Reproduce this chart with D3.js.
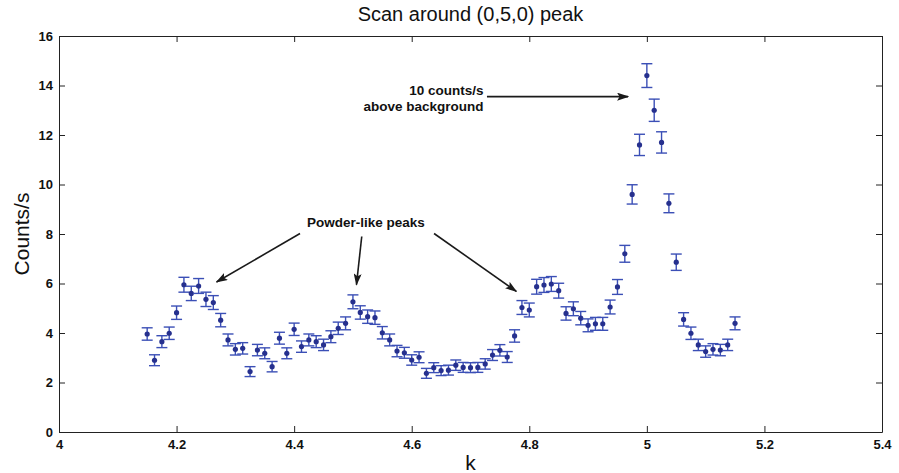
<!DOCTYPE html>
<html>
<head>
<meta charset="utf-8">
<script src="https://cdn.jsdelivr.net/npm/d3@7/dist/d3.min.js"></script>
<style>
  html, body { margin: 0; padding: 0; background: #fff; }
  svg { display: block; }
</style>
</head>
<body>
<svg id="chart" width="899" height="473"></svg>
<script>
// ---- data ----
const kValues = [4.15, 4.1625, 4.175, 4.1875, 4.2, 4.2125, 4.225, 4.2375, 4.25, 4.2625,
  4.275, 4.2875, 4.3, 4.3125, 4.325, 4.3375, 4.35, 4.3625, 4.375, 4.3875,
  4.4, 4.4125, 4.425, 4.4375, 4.45, 4.4625, 4.475, 4.4875, 4.5, 4.5125,
  4.525, 4.5375, 4.55, 4.5625, 4.575, 4.5875, 4.6, 4.6125, 4.625, 4.6375,
  4.65, 4.6625, 4.675, 4.6875, 4.7, 4.7125, 4.725, 4.7375, 4.75, 4.7625,
  4.775, 4.7875, 4.8, 4.8125, 4.825, 4.8375, 4.85, 4.8625, 4.875, 4.8875,
  4.9, 4.9125, 4.925, 4.9375, 4.95, 4.9625, 4.975, 4.9875, 5.0, 5.0125,
  5.025, 5.0375, 5.05, 5.0625, 5.075, 5.0875, 5.1, 5.1125, 5.125, 5.1375, 5.15];
const counts = [3.96, 2.9, 3.65, 3.99, 4.82, 5.95, 5.6, 5.9, 5.36, 5.23,
  4.52, 3.72, 3.34, 3.38, 2.44, 3.31, 3.18, 2.64, 3.79, 3.18,
  4.15, 3.45, 3.72, 3.65, 3.52, 3.85, 4.19, 4.39, 5.26, 4.83,
  4.66, 4.62, 4.01, 3.72, 3.27, 3.2, 2.91, 3.02, 2.37, 2.6,
  2.48, 2.5, 2.7, 2.61, 2.6, 2.61, 2.75, 3.11, 3.3, 3.03,
  3.88, 5.03, 4.93, 5.87, 5.94, 5.98, 5.71, 4.79, 4.98, 4.6,
  4.31, 4.37, 4.37, 5.05, 5.86, 7.2, 9.6, 11.6, 14.4, 13.0,
  11.7, 9.24, 6.86, 4.55, 3.99, 3.52, 3.25, 3.34, 3.31, 3.52, 4.39];
const errors = [0.25, 0.22, 0.24, 0.25, 0.27, 0.3, 0.29, 0.3, 0.29, 0.28,
  0.27, 0.24, 0.23, 0.23, 0.2, 0.23, 0.22, 0.21, 0.24, 0.22,
  0.25, 0.23, 0.24, 0.24, 0.23, 0.24, 0.25, 0.26, 0.28, 0.27,
  0.27, 0.27, 0.25, 0.24, 0.23, 0.22, 0.21, 0.22, 0.2, 0.2,
  0.2, 0.2, 0.21, 0.2, 0.2, 0.2, 0.21, 0.22, 0.23, 0.22,
  0.25, 0.28, 0.28, 0.3, 0.3, 0.3, 0.3, 0.27, 0.28, 0.27,
  0.26, 0.26, 0.26, 0.28, 0.3, 0.34, 0.39, 0.43, 0.48, 0.45,
  0.43, 0.38, 0.33, 0.27, 0.25, 0.23, 0.23, 0.23, 0.23, 0.23, 0.26];
const xTicks = [4, 4.2, 4.4, 4.6, 4.8, 5, 5.2, 5.4];
const yTicks = [0, 2, 4, 6, 8, 10, 12, 14, 16];
const titleText = "Scan around (0,5,0) peak";
const xLabel = "k";
const yLabel = "Counts/s";
// annotations in data coordinates
const peakNote = { lines: ["10 counts/s", "above background"], k: 4.722, v: [13.6, 12.95] };
const peakArrow = { from: [4.728, 13.55], to: [4.968, 13.55] };
const powderNote = { text: "Powder-like peaks", k: 4.522, v: 8.3 };
const powderArrows = [
  { from: [4.41, 8.02], to: [4.268, 6.06] },
  { from: [4.515, 7.9], to: [4.506, 5.95] },
  { from: [4.638, 8.02], to: [4.778, 5.68] }
];

// ---- layout ----
const L = 59, R = 882, T = 36, B = 432;
const svg = d3.select("#chart");
svg.append("rect").attr("width", 899).attr("height", 473).attr("fill", "#fff");

const x = d3.scaleLinear().domain([4, 5.4]).range([L, R]);
const y = d3.scaleLinear().domain([0, 16]).range([B, T]);

const tickFont = "'Liberation Sans', Arial, Helvetica, sans-serif";

function styleAxis(g) {
  g.selectAll("path.domain").attr("stroke", "#222").attr("stroke-width", 1);
  g.selectAll(".tick line").attr("stroke", "#222").attr("stroke-width", 1);
  g.selectAll(".tick text").attr("fill", "#111")
    .attr("font-family", tickFont).attr("font-size", 13).attr("font-weight", "bold");
}

svg.append("g").attr("transform", `translate(0,${B})`)
  .call(d3.axisBottom(x).tickValues(xTicks).tickFormat(d3.format("")).tickSizeInner(-6).tickSizeOuter(0).tickPadding(8))
  .call(styleAxis);
svg.append("g").attr("transform", `translate(0,${T})`)
  .call(d3.axisTop(x).tickValues(xTicks).tickFormat("").tickSizeInner(-6).tickSizeOuter(0))
  .call(styleAxis);
svg.append("g").attr("transform", `translate(${L},0)`)
  .call(d3.axisLeft(y).tickValues(yTicks).tickFormat(d3.format("")).tickSizeInner(-6).tickSizeOuter(0).tickPadding(6))
  .call(styleAxis);
svg.append("g").attr("transform", `translate(${R},0)`)
  .call(d3.axisRight(y).tickValues(yTicks).tickFormat("").tickSizeInner(-6).tickSizeOuter(0))
  .call(styleAxis);

// ---- data marks ----
const data = kValues.map((k, i) => ({ k, v: counts[i], e: errors[i] }));
const barColor = "#3b4fb6";
const dotColor = "#26308e";
const capHalf = 5.5;
const eb = svg.append("g");
const grp = eb.selectAll("g.pt").data(data).join("g").attr("class", "pt");
grp.append("line")
  .attr("x1", d => x(d.k)).attr("x2", d => x(d.k))
  .attr("y1", d => y(d.v + d.e)).attr("y2", d => y(d.v - d.e))
  .attr("stroke", barColor).attr("stroke-width", 1.4);
grp.append("line")
  .attr("x1", d => x(d.k) - capHalf).attr("x2", d => x(d.k) + capHalf)
  .attr("y1", d => y(d.v + d.e)).attr("y2", d => y(d.v + d.e))
  .attr("stroke", barColor).attr("stroke-width", 1.4);
grp.append("line")
  .attr("x1", d => x(d.k) - capHalf).attr("x2", d => x(d.k) + capHalf)
  .attr("y1", d => y(d.v - d.e)).attr("y2", d => y(d.v - d.e))
  .attr("stroke", barColor).attr("stroke-width", 1.4);
grp.append("circle")
  .attr("cx", d => x(d.k)).attr("cy", d => y(d.v)).attr("r", 2.6)
  .attr("fill", dotColor);

// ---- annotations ----
svg.append("defs").append("marker")
  .attr("id", "arrow").attr("viewBox", "0 0 12 8")
  .attr("refX", 11).attr("refY", 4)
  .attr("markerWidth", 12).attr("markerHeight", 8)
  .attr("markerUnits", "userSpaceOnUse")
  .attr("orient", "auto")
  .append("path").attr("d", "M0,0 L12,4 L0,8 L2.5,4 Z").attr("fill", "#1a1a1a");

function arrow(a) {
  svg.append("line")
    .attr("x1", x(a.from[0])).attr("y1", y(a.from[1]))
    .attr("x2", x(a.to[0])).attr("y2", y(a.to[1]))
    .attr("stroke", "#1a1a1a").attr("stroke-width", 1.6)
    .attr("marker-end", "url(#arrow)");
}
arrow(peakArrow);
powderArrows.forEach(arrow);

const annFont = "'Liberation Sans', Arial, Helvetica, sans-serif";
peakNote.lines.forEach((t, i) => {
  svg.append("text").attr("x", x(peakNote.k)).attr("y", y(peakNote.v[i]))
    .attr("text-anchor", "end").attr("font-family", annFont)
    .attr("font-size", 13.5).attr("font-weight", "bold").attr("fill", "#111")
    .text(t);
});
svg.append("text").attr("x", x(powderNote.k)).attr("y", y(powderNote.v))
  .attr("text-anchor", "middle").attr("font-family", annFont)
  .attr("font-size", 13.5).attr("font-weight", "bold").attr("fill", "#111")
  .text(powderNote.text);

// ---- titles ----
svg.append("text").attr("x", (L + R) / 2).attr("y", 21)
  .attr("text-anchor", "middle").attr("font-family", annFont)
  .attr("font-size", 20).attr("fill", "#111").text(titleText);
svg.append("text").attr("x", (L + R) / 2).attr("y", 470)
  .attr("text-anchor", "middle").attr("font-family", annFont)
  .attr("font-size", 21).attr("fill", "#111").text(xLabel);
svg.append("text")
  .attr("transform", `translate(29,${(T + B) / 2}) rotate(-90)`)
  .attr("text-anchor", "middle").attr("font-family", annFont)
  .attr("font-size", 21).attr("fill", "#111").text(yLabel);
</script>
</body>
</html>
